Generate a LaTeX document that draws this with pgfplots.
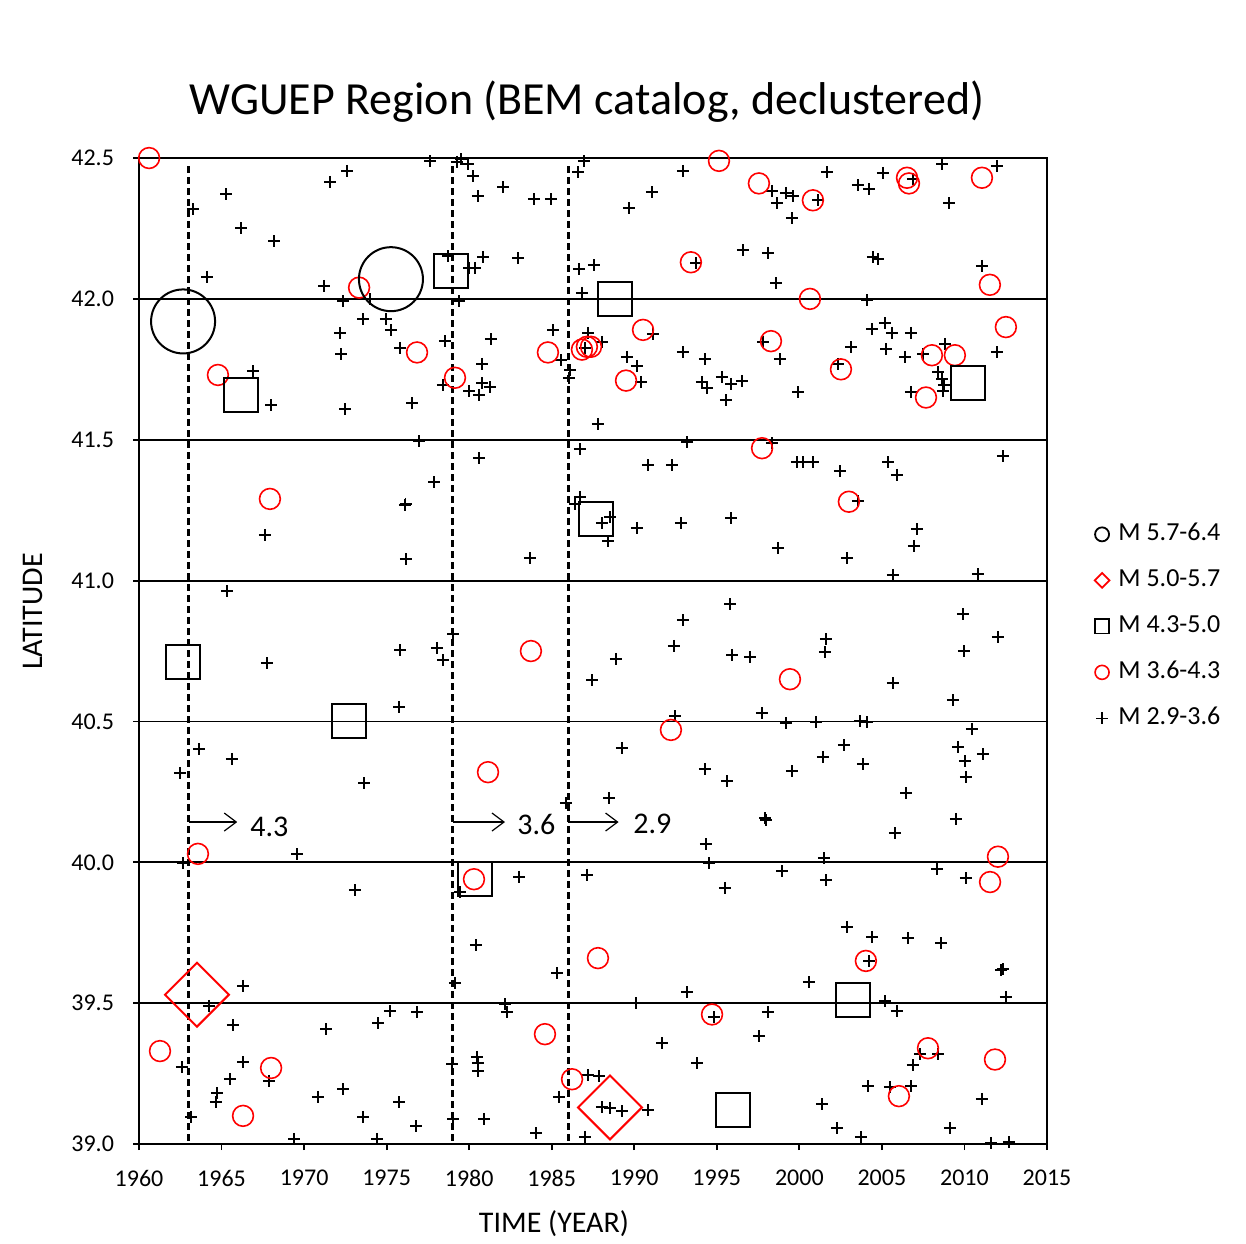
\documentclass[border=0pt]{standalone}
\usepackage{pgfplots}
\pgfplotsset{compat=1.18}
\usepackage{fontspec}
\setmainfont{Carlito}
\usetikzlibrary{arrows.meta}
\definecolor{mred}{RGB}{255,0,0}
\begin{document}
\begin{tikzpicture}
\begin{axis}[
  name=ax,
  scale only axis, width=454pt, height=493pt,
  xmin=1960, xmax=2015, ymin=39, ymax=42.5,
  clip=false,
  xtick={1960,1965,1970,1975,1980,1985,1990,1995,2000,2005,2010,2015},
  xticklabels={1960,1965,1970,1975,1980,1985,1990,1995,2000,2005,2010,2015},
  ytick={39,39.5,40,40.5,41,41.5,42,42.5},
  yticklabels={39.0,39.5,40.0,40.5,41.0,41.5,42.0,42.5},
  ymajorgrids, major grid style={black, line width=0.9pt},
  axis line style={black, line width=0.9pt},
  tick style={black, line width=0.9pt},
  tick align=outside, tick pos=left, major tick length=3pt,
  tick label style={font=\fontsize{12}{14}\selectfont},
  xticklabel style={yshift=-6.5pt},
  yticklabel style={xshift=-6pt},
  xlabel={TIME (YEAR)}, ylabel={LATITUDE},
  label style={font=\fontsize{15}{18}\selectfont},
  xlabel style={at={(axis description cs:0.457,-0.081)}, anchor=center},
  ylabel style={at={(axis description cs:-0.1167,0.54)}, anchor=center},
  title={WGUEP Region (BEM catalog, declustered)},
  title style={font=\fontsize{23}{27}\selectfont, at={(axis description cs:0.4934,1.045)}, anchor=center},
  legend image code/.code={\draw[#1] plot coordinates {(0pt,0pt)};},
  legend style={draw=none, fill=none, at={(axis description cs:1.0455,0.637)}, anchor=north west,
    font=\fontsize{13}{15}\selectfont, row sep=9pt, column sep=3.5pt, nodes={inner sep=1pt, text height=9pt, text depth=3pt}},
  legend cell align=left,
]
\addlegendimage{only marks, mark=o, mark size=3.5pt, mark options={black, line width=0.9pt}}
\addlegendentry{M 5.7-6.4}
\addlegendimage{only marks, mark=square, mark size=2.6pt, mark options={mred, line width=0.9pt, rotate=45}}
\addlegendentry{M 5.0-5.7}
\addlegendimage{only marks, mark=square, mark size=3.6pt, mark options={black, line width=0.9pt}}
\addlegendentry{M 4.3-5.0}
\addlegendimage{only marks, mark=o, mark size=3.5pt, mark options={mred, line width=0.8pt}}
\addlegendentry{M 3.6-4.3}
\addlegendimage{only marks, mark=+, mark size=3pt, mark options={black, line width=0.8pt}}
\addlegendentry{M 2.9-3.6}

% dashed completeness lines
\addplot[forget plot, black, line width=1.3pt, dash pattern=on 3.5pt off 2pt] coordinates {(1963.0,42.47) (1963.0,39.0)};
\addplot[forget plot, black, line width=1.3pt, dash pattern=on 3.5pt off 2pt] coordinates {(1979.0,42.47) (1979.0,39.0)};
\addplot[forget plot, black, line width=1.3pt, dash pattern=on 3.5pt off 2pt] coordinates {(1986.0,42.47) (1986.0,39.0)};

% M 2.9-3.6
\addplot[forget plot, only marks, mark=+, mark size=3pt, mark options={black, line width=0.8pt}] table {
x y
1977.63 42.489
1979.26 42.486
1979.50 42.496
1979.93 42.479
1972.60 42.454
1971.57 42.415
1965.27 42.372
1963.27 42.319
1966.18 42.251
1968.18 42.205
1964.12 42.078
1971.21 42.046
1972.36 41.992
1973.99 41.999
1973.57 41.928
1974.96 41.928
1975.26 41.889
1972.17 41.879
1972.24 41.804
1975.81 41.826
1966.90 41.744
1968.00 41.623
1972.48 41.609
1976.54 41.630
1976.96 41.495
1980.23 42.436
1982.05 42.397
1980.53 42.365
1983.92 42.354
1984.95 42.354
1986.95 42.489
1986.59 42.450
1992.95 42.454
1991.07 42.379
1989.68 42.322
1978.72 42.152
1980.84 42.149
1982.96 42.145
1979.99 42.110
1980.35 42.110
1979.38 41.992
1986.65 42.106
1987.56 42.120
1986.83 42.021
1993.74 42.127
1985.08 41.889
1978.53 41.850
1981.32 41.857
1987.20 41.879
1988.04 41.847
1987.01 41.826
1991.13 41.875
1989.56 41.794
1990.16 41.762
1990.41 41.705
1985.56 41.783
1986.11 41.747
1986.04 41.719
1980.78 41.769
1978.41 41.694
1980.78 41.701
1981.26 41.687
1979.99 41.673
1980.59 41.659
1987.80 41.556
1992.95 41.811
1994.28 41.786
1995.31 41.723
1995.86 41.698
1994.10 41.705
1994.40 41.684
1995.55 41.641
1993.19 41.492
1986.71 41.467
1980.59 41.435
1990.83 41.410
1992.28 41.410
2001.67 42.450
2005.06 42.447
2008.64 42.479
2011.97 42.472
2006.88 42.425
1998.34 42.383
1999.19 42.376
1999.61 42.365
1998.64 42.340
2001.13 42.351
2003.55 42.404
2004.22 42.390
2009.06 42.340
1999.55 42.287
1996.58 42.173
1998.10 42.163
2004.46 42.149
2004.76 42.141
2011.06 42.117
1998.58 42.056
2004.09 41.996
2004.40 41.893
2005.18 41.914
2005.61 41.879
2006.76 41.879
2003.13 41.829
2005.25 41.822
2006.40 41.794
2007.49 41.804
2008.82 41.840
2011.97 41.811
1997.80 41.847
1998.82 41.786
2002.34 41.769
2008.40 41.740
2008.64 41.715
2008.76 41.694
2008.70 41.673
2006.76 41.669
1996.52 41.709
1999.92 41.669
1998.34 41.488
1999.85 41.421
2000.22 41.421
2000.82 41.421
2002.46 41.389
2005.37 41.421
2005.91 41.375
2012.33 41.442
1977.87 41.350
1976.11 41.268
1976.15 41.272
1967.63 41.162
1976.17 41.076
1965.33 40.963
1975.81 40.753
1967.75 40.707
1978.05 40.761
1975.75 40.551
1963.63 40.402
1965.63 40.367
1962.48 40.317
1973.63 40.281
1986.71 41.297
1986.41 41.272
1988.53 41.226
1988.04 41.204
1988.41 41.140
1990.16 41.187
1992.83 41.204
1995.86 41.222
1983.68 41.080
1995.80 40.916
1992.95 40.860
1979.02 40.810
1978.41 40.718
1992.40 40.768
1995.92 40.736
1988.89 40.722
1987.44 40.647
1992.47 40.519
1989.25 40.406
1994.28 40.331
1995.61 40.288
1988.47 40.228
1985.86 40.210
2003.55 41.282
2007.12 41.183
2006.94 41.123
1998.70 41.116
2002.88 41.080
2005.67 41.020
2010.82 41.023
2009.91 40.881
2001.61 40.792
2012.03 40.799
2001.55 40.746
2009.97 40.750
1997.01 40.729
2005.67 40.636
2009.30 40.576
1997.73 40.530
1999.19 40.494
2001.01 40.498
2003.67 40.501
2004.09 40.498
2010.45 40.474
2002.70 40.416
2009.61 40.409
2001.43 40.374
2010.03 40.359
2011.12 40.384
2003.85 40.349
1999.55 40.324
2010.09 40.303
2006.46 40.246
1969.57 40.029
1962.67 39.997
1973.08 39.901
1966.30 39.561
1964.24 39.490
1965.69 39.422
1971.33 39.408
1974.48 39.429
1975.20 39.472
1976.84 39.468
1962.60 39.273
1966.30 39.291
1965.51 39.231
1967.87 39.224
1964.72 39.181
1964.66 39.149
1970.84 39.167
1972.36 39.195
1975.75 39.149
1963.15 39.096
1973.57 39.096
1976.78 39.064
1969.39 39.018
1974.42 39.018
1994.34 40.065
1994.52 39.997
1995.49 39.909
1983.02 39.948
1987.13 39.955
1979.44 39.894
1980.41 39.706
1985.32 39.607
1979.14 39.571
1993.19 39.539
1982.17 39.497
1982.29 39.468
1990.10 39.500
1994.83 39.450
1991.68 39.358
1993.80 39.287
1978.96 39.284
1980.47 39.309
1980.53 39.287
1980.53 39.259
1987.20 39.245
1987.86 39.241
1985.44 39.167
1988.04 39.131
1988.53 39.128
1989.25 39.117
1990.83 39.120
1979.02 39.089
1980.90 39.089
1984.05 39.039
1987.01 39.025
1997.92 40.157
1997.98 40.150
2009.48 40.154
2005.79 40.104
2001.49 40.015
1998.95 39.969
2001.61 39.937
2008.33 39.976
2010.09 39.944
2002.88 39.770
2004.40 39.735
2006.58 39.731
2008.58 39.713
2004.22 39.649
2012.21 39.617
2012.33 39.621
2000.58 39.575
2005.18 39.507
2005.91 39.472
2012.51 39.522
1998.10 39.468
1997.55 39.383
2007.30 39.319
2008.40 39.319
2006.88 39.280
2004.16 39.206
2005.49 39.202
2006.76 39.206
2011.06 39.160
2001.37 39.142
2002.28 39.056
2009.12 39.056
2003.73 39.025
2011.60 39.004
2012.69 39.007
};

% M 3.6-4.3
\addplot[forget plot, only marks, mark=o, mark size=5.2pt, mark options={mred, line width=0.8pt}] table {
x y
1960.61 42.50
1995.13 42.49
1997.55 42.41
2000.82 42.35
2006.52 42.43
2006.64 42.41
2011.06 42.43
1993.43 42.13
1973.33 42.04
2000.64 42.00
2011.54 42.05
2012.51 41.90
1990.53 41.89
1998.28 41.85
1984.77 41.81
1976.84 41.81
1986.83 41.82
1987.13 41.83
1987.38 41.83
1964.78 41.73
1979.14 41.72
1989.50 41.71
2002.52 41.75
2008.03 41.80
2009.42 41.80
2007.67 41.65
1997.74 41.47
2003.00 41.28
1967.93 41.29
1983.74 40.75
1999.43 40.65
1992.22 40.47
1981.14 40.32
1963.57 40.03
1980.29 39.94
2012.03 40.02
2011.55 39.93
1987.80 39.66
2004.03 39.65
1994.71 39.46
1961.27 39.33
2007.79 39.34
2011.85 39.30
1984.59 39.39
1986.23 39.23
1968.00 39.27
1966.30 39.10
2006.03 39.17
};

% M 4.3-5.0
\addplot[forget plot, only marks, mark=square, mark size=8.5pt, mark options={black, line width=1pt}] table {
x y
1966.18 41.66
1978.90 42.10
1988.83 42.00
2010.21 41.70
1987.68 41.22
1962.67 40.71
1972.72 40.50
1980.35 39.94
2003.25 39.51
1995.98 39.12
};

% M 5.0-5.7
\addplot[forget plot, only marks, mark=square, mark size=11.3pt, mark options={mred, line width=1pt, rotate=45}] table {
x y
1963.51 39.53
1988.53 39.13
};

% M 5.7-6.4
\addplot[forget plot, only marks, mark=o, mark size=16pt, mark options={black, line width=1pt}] table {
x y
1962.67 41.92
1975.26 42.07
};

% arrows and thresholds
\draw[black, line width=0.6pt, -{Straight Barb[length=6pt, width=9pt]}] (axis cs:1963.0,40.143) -- (axis cs:1965.95,40.143);
\node[anchor=west, inner sep=0pt, font=\fontsize{15}{18}\selectfont] at (axis cs:1966.72,40.125) {4.3};
\draw[black, line width=0.6pt, -{Straight Barb[length=6pt, width=9pt]}] (axis cs:1979.0,40.143) -- (axis cs:1982.17,40.143);
\node[anchor=west, inner sep=0pt, font=\fontsize{15}{18}\selectfont] at (axis cs:1982.9,40.133) {3.6};
\draw[black, line width=0.6pt, -{Straight Barb[length=6pt, width=9pt]}] (axis cs:1986.0,40.143) -- (axis cs:1989.05,40.143);
\node[anchor=west, inner sep=0pt, font=\fontsize{15}{18}\selectfont] at (axis cs:1989.92,40.137) {2.9};

\coordinate (bbSW) at (rel axis cs:-0.1531,-0.1004);
\coordinate (bbNE) at (rel axis cs:1.2192,1.1603);
\end{axis}
\pgfresetboundingbox
\path[use as bounding box] (bbSW) rectangle (bbNE);
\end{tikzpicture}
\end{document}
